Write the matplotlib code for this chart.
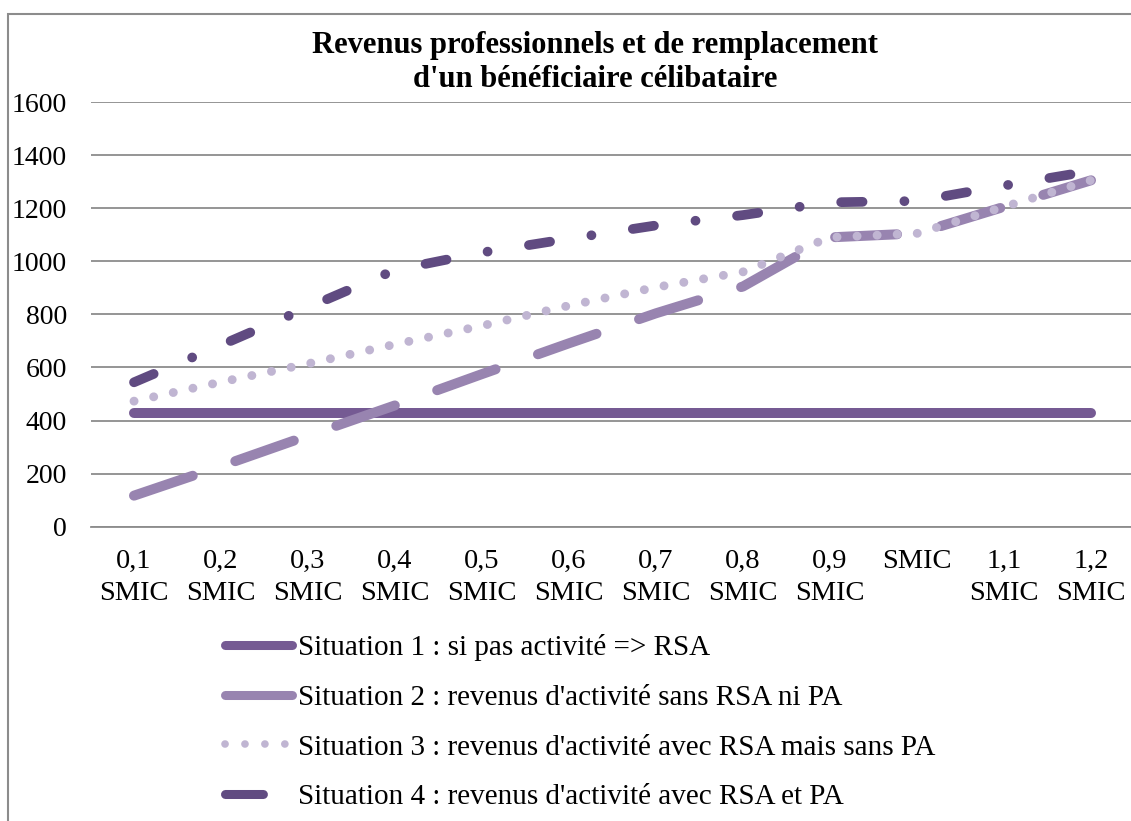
import numpy as np
import matplotlib
matplotlib.use('Agg')
import matplotlib.pyplot as plt
from matplotlib.patches import Rectangle
from matplotlib.lines import Line2D

# categories and series
categories = ['0,1\nSMIC', '0,2\nSMIC', '0,3\nSMIC', '0,4\nSMIC', '0,5\nSMIC', '0,6\nSMIC',
              '0,7\nSMIC', '0,8\nSMIC', '0,9\nSMIC', 'SMIC', '1,1\nSMIC', '1,2\nSMIC']
situation1 = [430, 430, 430, 430, 430, 430, 430, 430, 430, 430, 430, 430]
situation2 = [117, 228, 343, 457, 575, 691, 804, 905, 1090, 1105, 1205, 1305]
situation3 = [473, 545, 614, 687, 757, 833, 902, 960, 1090, 1105, 1205, 1305]
situation4 = [544, 684, 826, 967, 1033, 1085, 1135, 1174, 1222, 1227, 1285, 1340]
labels = ["Situation 1 : si pas activité => RSA",
          "Situation 2 : revenus d'activité sans RSA ni PA",
          "Situation 3 : revenus d'activité avec RSA mais sans PA",
          "Situation 4 : revenus d'activité avec RSA et PA"]
yticks = [0, 200, 400, 600, 800, 1000, 1200, 1400, 1600]

colors = ['#755a93', '#9884b0', '#c0b5d2', '#604b81']

plt.rcParams['font.family'] = ['Liberation Serif', 'DejaVu Serif']

W, H = 1131, 821
fig = plt.figure(figsize=(W / 100, H / 100), dpi=100)

# chart frame (only left and top edges visible in the crop)
fig.patches.append(Rectangle((8 / W, -0.1), 1.2, 1 - 14 / H + 0.1, transform=fig.transFigure,
                             fill=False, edgecolor='#8c8c8c', linewidth=1.5, zorder=0))

ax = fig.add_axes([90.5 / W, 1 - 526.7 / H, 1044 / W, 424.7 / H])
x = np.arange(len(categories))

ax.plot(x, situation1, color=colors[0], lw=7.2, solid_capstyle='round')
ax.plot(x, situation2, color=colors[1], lw=7.2, dashes=(6.2, 4.5), dash_capstyle='round')
ax.plot(x, situation3, color=colors[2], lw=6.4, dashes=(0.01, 2.25), dash_capstyle='round')
ax.plot(x, situation4, color=colors[3], lw=7.0, dashes=(2.2, 4.3, 0.01, 4.3), dash_capstyle='round')

ax.set_xlim(-0.5, len(categories) - 0.5)
ax.set_ylim(0, 1600)
ax.set_yticks(yticks)
ax.set_xticks(x)
ax.set_xticklabels(categories, fontsize=20.5, linespacing=1.35, va='top')
ax.tick_params(axis='y', labelsize=20, length=0, pad=17)
ax.tick_params(axis='x', length=0, pad=16)
ax.grid(axis='y', color='#8c8c8c', lw=1.3)
ax.set_axisbelow(True)
for s in ['top', 'right', 'left']:
    ax.spines[s].set_visible(False)
ax.spines['bottom'].set_color('#8c8c8c')
ax.spines['bottom'].set_linewidth(1.3)

fig.text(595 / W, 1 - 62.5 / H, "Revenus professionnels et de remplacement\nd'un bénéficiaire célibataire",
         ha='center', va='center', fontsize=22, fontweight='bold', linespacing=1.2)

# legend samples as shown in the reference key
handles = [Line2D([], [], color=colors[0], lw=6.5, solid_capstyle='round'),
           Line2D([], [], color=colors[1], lw=6.5, solid_capstyle='round'),
           Line2D([], [], color=colors[2], lw=5.5, dashes=(0.01, 2.6), dash_capstyle='round'),
           Line2D([], [], color=colors[3], lw=6.5, dashes=(4.2, 20), dash_capstyle='round')]
fig.legend(handles, labels, loc='upper left', bbox_to_anchor=(225 / W, 1 - 634 / H), frameon=False,
           fontsize=21, handlelength=2.3, handletextpad=0.2, labelspacing=0.8,
           borderpad=0, borderaxespad=0)

fig.savefig('out.png', dpi=100)
